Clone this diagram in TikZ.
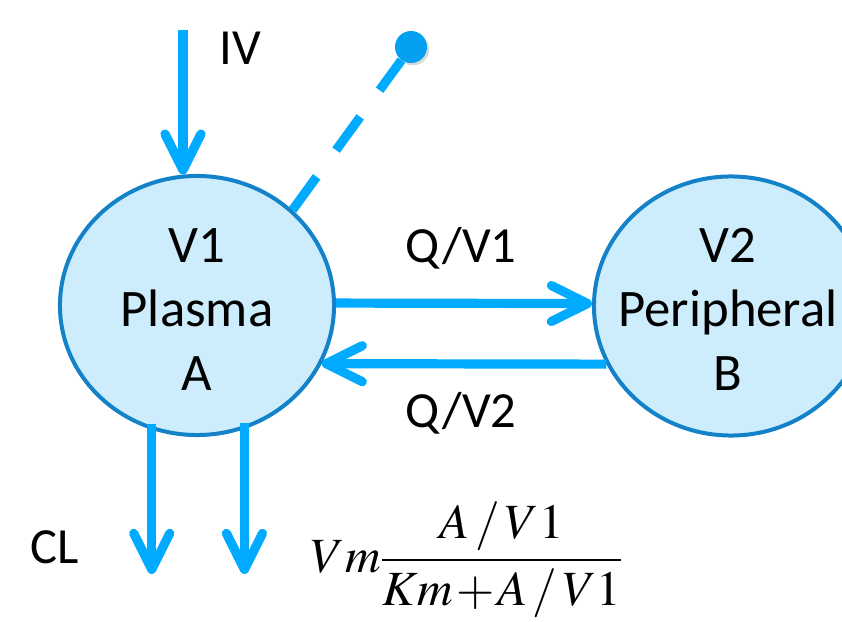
\documentclass[tikz,border=0pt]{standalone}
\usepackage{mathptmx}
\usepackage[no-math]{fontspec}
\newfontfamily\calib{Carlito}
\usepackage{tikz}
\usetikzlibrary{arrows.meta,shapes.geometric,shadows}

\definecolor{flowcol}{RGB}{0,170,255}
\definecolor{compfill}{RGB}{205,237,253}
\definecolor{compline}{RGB}{20,130,200}
\definecolor{dotcol}{RGB}{5,160,240}

\begin{document}
\begin{tikzpicture}[
    x=0.025cm,
    y=-0.025cm,
    >={Straight Barb[length=9mm, width=9mm, round]},
    comp/.style={ellipse, draw=compline, fill=compfill, line width=1mm, minimum width=6.85cm, minimum height=6.475cm, inner sep=0pt},
    comptext/.style={align=center, font=\calib\fontsize{37.5}{45.5}\selectfont, inner sep=0pt},
    lbl/.style={font=\calib\fontsize{36}{43}\selectfont, inner sep=0pt, anchor=base},
    flow/.style={->, draw=flowcol, line width=2.3mm},
    dose/.style={draw=flowcol, line width=2.3mm, dash pattern=on 10.25mm off 8.25mm},
    srcdot/.style={circle, fill=dotcol, minimum size=8mm, inner sep=0pt, drop shadow={shadow xshift=0.5mm, shadow yshift=-0.6mm, opacity=0.3}}
]
\clip (0,0) rectangle (842,622);

% compartments
\node[comp] (A) at (197,305.5) {};
\node[comp] (B) at (731,306) {};
\node[comptext] (Atext) at (197,309.5) {V1\\Plasma\\A};
\node[comptext] (Btext) at (728,309.5) {V2\\Peripheral\\B};

% free ends
\coordinate (iv) at (183,30);
\coordinate (cl) at (0,574);
\node[srcdot] (src) at (411,47) {};

\draw[flow] (iv) -- (iv |- A.96);
\draw[dose] (A.45) -- (src);
\draw[flow] (A.1) -- (B.179);
\draw[flow] (B.205) -- (A.-25);
\draw[flow] ([yshift=0.15cm]A.250.6) -- (A.250.6 |- cl);
\draw[flow] ([yshift=0.15cm]A.-69.3) -- (A.-69.3 |- cl);

% labels
\node[lbl] (ivlbl) at (240,65) {IV};
\node[lbl] (q1lbl) at (461,263) {Q/V1};
\node[lbl] (q2lbl) at (461,428) {Q/V2};
\node[lbl] (cllbl) at (55,563) {CL};
\node[inner sep=0pt, anchor=base west, font=\fontsize{35}{43}\selectfont] (mm) at (311,572)
    {$\displaystyle Vm\frac{A\mkern2mu/\mkern2mu V1}{Km\mkern1mu{+}\mkern1mu A\mkern2mu/\mkern2mu V1}$};
\end{tikzpicture}
\end{document}
